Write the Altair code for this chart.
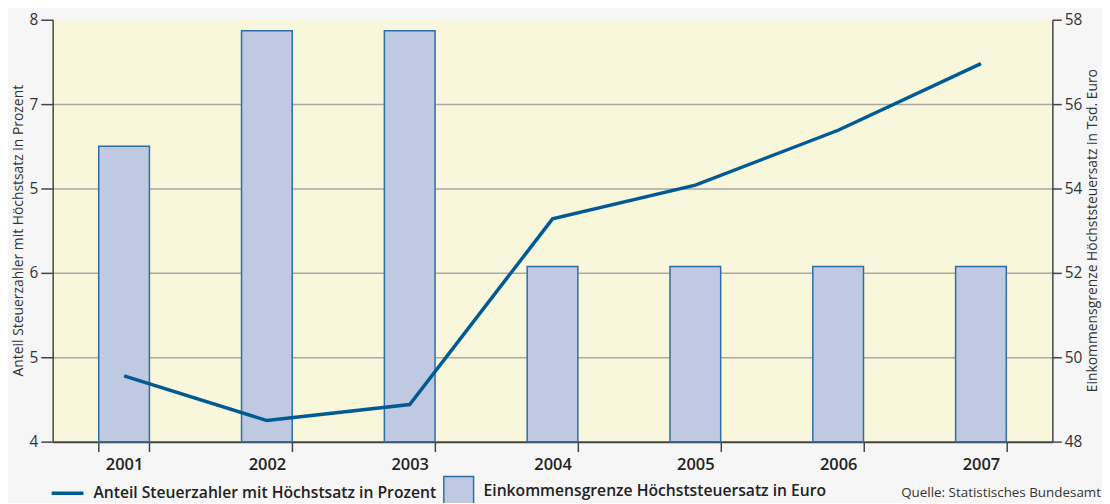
import altair as alt
import pandas as pd

years = ["2001", "2002", "2003", "2004", "2005", "2006", "2007"]
anteil = [4.78, 4.25, 4.44, 6.64, 7.04, 7.69, 8.48]
grenze = [55.0, 57.74, 57.74, 52.15, 52.15, 52.15, 52.15]
left_ticks = [4, 5, 6, 7, 8, 9]
left_labels = ["4", "5", "6", "5", "7", "8"]
right_ticks = [48, 50, 52, 54, 56, 58]
line_name = "Anteil Steuerzahler mit Höchstsatz in Prozent"
bar_name = "Einkommensgrenze Höchststeuersatz in Euro"
source_text = "Quelle: Statistisches Bundesamt"

df = pd.DataFrame({"year": years, "anteil": anteil, "grenze": grenze,
                   "l": line_name, "b": bar_name})

FONT = "Open Sans"
AX = "#444444"

x = alt.X("year:N", sort=years,
          scale=alt.Scale(paddingInner=0.645, paddingOuter=0.3225),
          axis=alt.Axis(title=None, tickBand="extent", labelFontWeight=600,
                        labelFontSize=16.5, labelColor="#222222", tickSize=10,
                        labelAngle=0, labelPadding=5, domainWidth=2, domainColor=AX,
                        tickColor=AX, tickWidth=1.5, grid=False))

label_expr = "[" + ",".join("'%s'" % s for s in left_labels) + "][datum.value - 4]"

bars = alt.Chart(df).mark_bar(stroke="#2e6ea5", strokeWidth=1.5).encode(
    x=x,
    y=alt.Y("grenze:Q",
            scale=alt.Scale(domain=[48, 58], zero=False, nice=False),
            axis=alt.Axis(orient="right", values=right_ticks,
                          title="Einkommensgrenze Höchststeuersatz in Tsd. Euro",
                          titleAngle=270, titleX=40, titleY=212,
                          titleAlign="center", titleBaseline="middle",
                          titleFontSize=14, titleFontWeight="normal",
                          titleColor="#333333",
                          labelFontSize=15.5, labelColor="#333333", labelPadding=3,
                          tickSize=9, tickColor=AX, tickWidth=1.5,
                          domainColor=AX, domainWidth=1.5,
                          grid=True, gridColor="#a9a9a9", gridWidth=1.5,
                          gridOpacity={"condition": {"test": "datum.value === 58 || datum.value === 48", "value": 0}, "value": 1})),
    y2=alt.datum(48),
    fill=alt.Fill("b:N", scale=alt.Scale(range=["#bfcae2"]),
                  legend=alt.Legend(title=None, orient="none", legendX=393, legendY=459,
                                    symbolType="square", symbolSize=900,
                                    symbolStrokeColor="#2e6ea5", symbolStrokeWidth=1.5,
                                    labelFontSize=15.8, labelFontWeight=600, labelLimit=0,
                                    labelColor="#222222", labelOffset=9)),
)

line = alt.Chart(df).mark_line(strokeWidth=3.5, color="#005b94").encode(
    x=x,
    y=alt.Y("anteil:Q",
            scale=alt.Scale(domain=[4, 9], zero=False, nice=False),
            axis=alt.Axis(orient="left", values=left_ticks, labelExpr=label_expr,
                          title="Anteil Steuerzahler mit Höchstsatz in Prozent",
                          titleX=-34, titleY=212,
                          titleAlign="center", titleBaseline="middle",
                          titleFontSize=14, titleFontWeight="normal",
                          titleColor="#333333",
                          labelFontSize=15.5, labelColor="#333333", labelPadding=3,
                          tickSize=12, tickColor=AX, tickWidth=1.5,
                          domainColor=AX, domainWidth=1.5, grid=False)),
    stroke=alt.Stroke("l:N", scale=alt.Scale(range=["#005b94"]),
                      legend=alt.Legend(title=None, orient="none", legendX=-3, legendY=459,
                                        symbolType="stroke", symbolSize=1024,
                                        symbolStrokeWidth=3.5, labelLimit=0,
                                        labelFontSize=15.8, labelFontWeight=600,
                                        labelColor="#222222", labelOffset=8)),
)

src = alt.Chart(pd.DataFrame({"t": [source_text]})).mark_text(
    align="right", baseline="middle", fontSize=13.5, color="#333333", font=FONT
).encode(text="t:N", x=alt.value(1056), y=alt.value(477))

chart = alt.layer(bars, line, src).resolve_scale(
    y="independent", stroke="independent", fill="independent"
).properties(
    width=1007, height=425,
    autosize=alt.AutoSizeParams(type="none"),
    padding={"left": 45, "top": 10, "right": 50, "bottom": 60},
    background="#f6f6f6",
    view=alt.ViewBackground(fill="#f8f6db", strokeWidth=0),
).configure_view(fill="#f8f6db", strokeWidth=0).configure(font=FONT)

chart.save("out.html", embed_options={"renderer": "svg", "actions": False})
